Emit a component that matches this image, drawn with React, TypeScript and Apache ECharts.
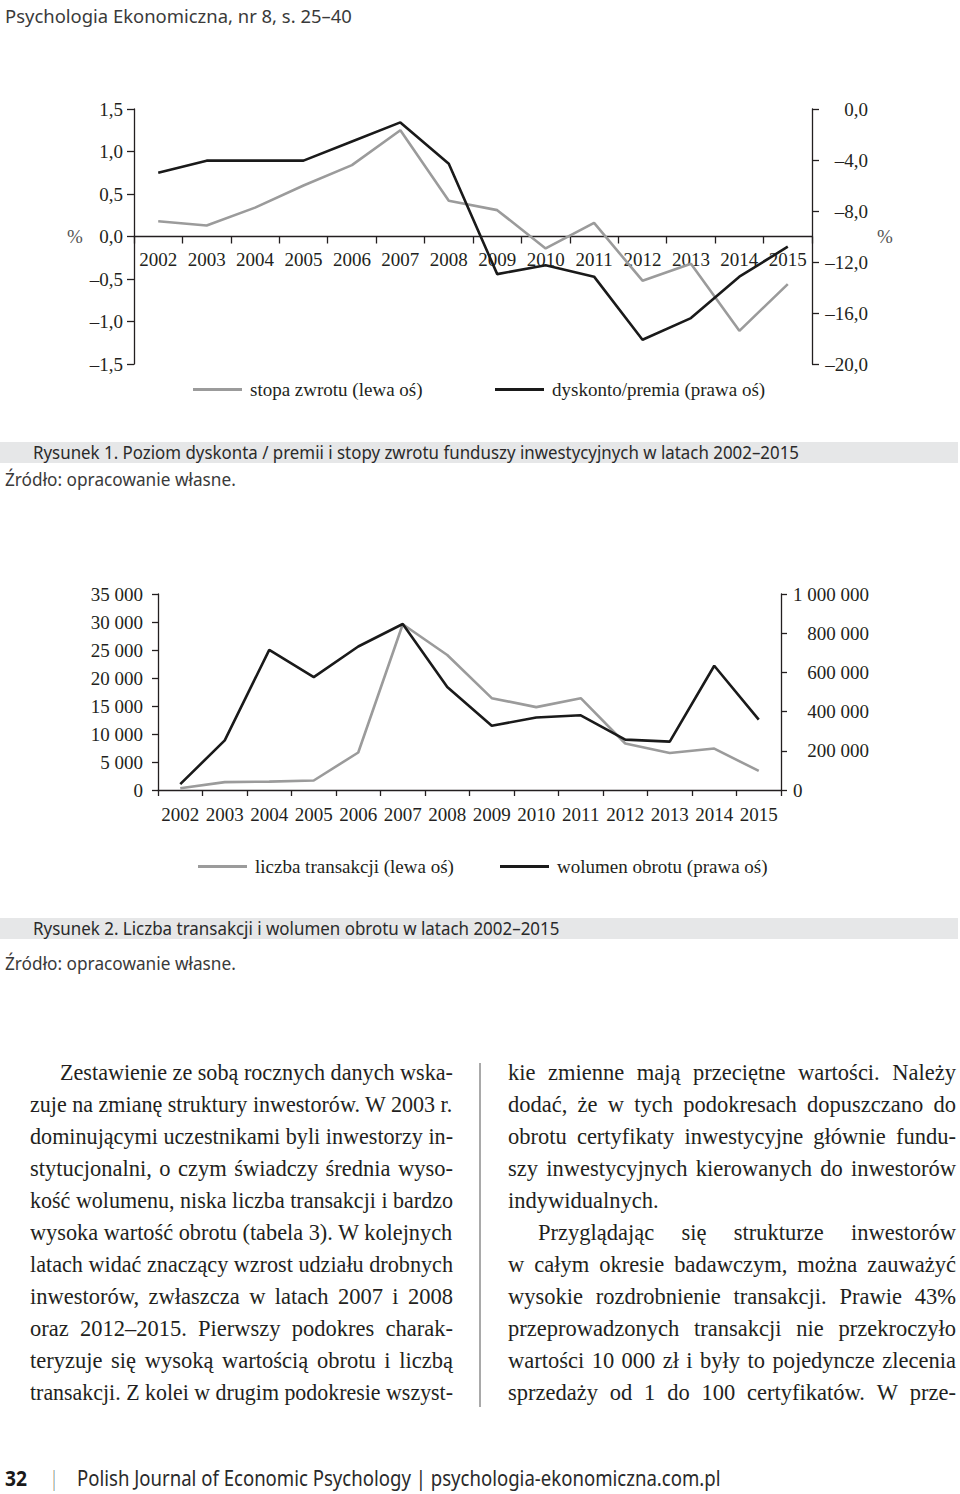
import React, { useEffect, useRef } from 'react';
import * as echarts from 'echarts';

// ---------- data ----------
const years = ['2002', '2003', '2004', '2005', '2006', '2007', '2008', '2009', '2010', '2011', '2012', '2013', '2014', '2015'];
const stopaZwrotu = [0.18, 0.13, 0.34, 0.6, 0.84, 1.25, 0.42, 0.31, -0.14, 0.16, -0.52, -0.32, -1.11, -0.56];
const dyskontoPremia = [-5.0, -4.05, -4.05, -4.05, -2.55, -1.05, -4.3, -12.95, -12.25, -13.15, -18.1, -16.4, -13.15, -10.8];
const liczbaTransakcji = [300, 1400, 1500, 1700, 6700, 29600, 24100, 16400, 14800, 16400, 8300, 6600, 7400, 3400];
const wolumenObrotu = [30000, 253000, 715000, 576000, 732000, 847000, 525000, 328000, 370000, 381000, 257000, 247000, 634000, 359000];

const seriesNames1 = ['stopa zwrotu (lewa oś)', 'dyskonto/premia (prawa oś)'];
const seriesNames2 = ['liczba transakcji (lewa oś)', 'wolumen obrotu (prawa oś)'];

const headerText = 'Psychologia Ekonomiczna, nr 8, s. 25–40';
const caption1 = 'Rysunek 1. Poziom dyskonta / premii i stopy zwrotu funduszy inwestycyjnych w latach 2002–2015';
const caption2 = 'Rysunek 2. Liczba transakcji i wolumen obrotu w latach 2002–2015';
const sourceText = 'Źródło: opracowanie własne.';
const footerPage = '32';
const footerText = 'Polish Journal of Economic Psychology | psychologia-ekonomiczna.com.pl';

const leftLines = [
  'Zestawienie ze sobą rocznych danych wska-',
  'zuje na zmianę struktury inwestorów. W 2003 r.',
  'dominującymi uczestnikami byli inwestorzy in-',
  'stytucjonalni, o czym świadczy średnia wyso-',
  'kość wolumenu, niska liczba transakcji i bardzo',
  'wysoka wartość obrotu (tabela 3). W kolejnych',
  'latach widać znaczący wzrost udziału drobnych',
  'inwestorów, zwłaszcza w latach 2007 i 2008',
  'oraz 2012–2015. Pierwszy podokres charak-',
  'teryzuje się wysoką wartością obrotu i liczbą',
  'transakcji. Z kolei w drugim podokresie wszyst-',
];
const rightLines = [
  'kie zmienne mają przeciętne wartości. Należy',
  'dodać, że w tych podokresach dopuszczano do',
  'obrotu certyfikaty inwestycyjne głównie fundu-',
  'szy inwestycyjnych kierowanych do inwestorów',
  'indywidualnych.',
  'Przyglądając się strukturze inwestorów',
  'w całym okresie badawczym, można zauważyć',
  'wysokie rozdrobnienie transakcji. Prawie 43%',
  'przeprowadzonych transakcji nie przekroczyło',
  'wartości 10 000 zł i były to pojedyncze zlecenia',
  'sprzedaży od 1 do 100 certyfikatów. W prze-',
];
const leftIndent = [30, 0, 0, 0, 0, 0, 0, 0, 0, 0, 0];
const rightIndent = [0, 0, 0, 0, 0, 30, 0, 0, 0, 0, 0];
const rightJustify = [true, true, true, true, false, true, true, true, true, true, true];

// ---------- helpers ----------
const SERIF = '"Liberation Serif", "Times New Roman", serif';
const SANS = '"Noto Sans", sans-serif';
const TEXT_COLOR = '#231f20';

let measureCtx: CanvasRenderingContext2D | null = null;
function measure(text: string, font: string): number {
  if (!measureCtx) measureCtx = document.createElement('canvas').getContext('2d');
  if (!measureCtx) return text.length * 8;
  measureCtx.font = font;
  return measureCtx.measureText(text).width;
}
function fit(text: string, size: number, family: string, target: number, weight = 'normal') {
  const w = measure(text, `${weight} ${size}px ${family}`);
  return w > 0 ? target / w : 1;
}

const fmt1 = (v: number) => (v < -1e-9 ? '–' : '') + Math.abs(v).toFixed(1).replace('.', ',');
const fmtThousands = (v: number) => String(Math.round(v)).replace(/\B(?=(\d{3})+(?!\d))/g, ' ');

const axisLineStyle = { color: TEXT_COLOR, width: 1.3 };
const labelBase = { fontFamily: SERIF, fontSize: 19, color: TEXT_COLOR };

function sansText(text: string, x: number, y: number, size: number, target: number, fill: string, weight = 'normal') {
  return {
    type: 'text',
    x,
    y,
    scaleX: fit(text, size, SANS, target, weight),
    z: 10,
    style: {
      text,
      fontFamily: SANS,
      fontSize: size,
      fontWeight: weight,
      fill,
      textVerticalAlign: 'middle',
      verticalAlign: 'middle',
    },
  };
}

function Charts() {
  const ref = useRef<HTMLDivElement>(null);
  useEffect(() => {
    if (!ref.current) return;
    const chart = echarts.init(ref.current, undefined, { renderer: 'svg' });
    const legendBase = {
      icon: 'rect',
      itemWidth: 49,
      itemHeight: 3,
      selectedMode: false,
      textStyle: { ...labelBase, padding: [0, 0, 0, 3] },
    };
    chart.setOption({
      animation: false,
      grid: [
        { left: 134, top: 109, width: 678, height: 255 },
        { left: 158, top: 594, width: 623, height: 196 },
      ],
      xAxis: [
        {
          type: 'category',
          gridIndex: 0,
          data: years,
          boundaryGap: true,
          position: 'bottom',
          offset: -127.5,
          axisLine: { onZero: false, lineStyle: axisLineStyle },
          axisTick: { show: true, length: 7, lineStyle: axisLineStyle },
          axisLabel: { ...labelBase, margin: 13, interval: 0 },
          splitLine: { show: false },
        },
        {
          type: 'category',
          gridIndex: 1,
          data: years,
          boundaryGap: true,
          axisLine: { onZero: false, lineStyle: axisLineStyle },
          axisTick: { show: true, length: 6, lineStyle: axisLineStyle },
          axisLabel: { ...labelBase, margin: 15, interval: 0 },
          splitLine: { show: false },
        },
      ],
      yAxis: [
        {
          type: 'value',
          gridIndex: 0,
          position: 'left',
          min: -1.5,
          max: 1.5,
          interval: 0.5,
          axisLine: { show: true, onZero: false, lineStyle: axisLineStyle },
          axisTick: { show: true, length: 7, lineStyle: axisLineStyle },
          axisLabel: { ...labelBase, margin: 11, formatter: fmt1 },
          splitLine: { show: false },
        },
        {
          type: 'value',
          gridIndex: 0,
          position: 'right',
          min: -20,
          max: 0,
          interval: 4,
          axisLine: { show: true, onZero: false, lineStyle: axisLineStyle },
          axisTick: { show: true, length: 7, lineStyle: axisLineStyle },
          axisLabel: { ...labelBase, margin: 56, align: 'right', formatter: fmt1 },
          splitLine: { show: false },
        },
        {
          type: 'value',
          gridIndex: 1,
          position: 'left',
          min: 0,
          max: 35000,
          interval: 5000,
          axisLine: { show: true, onZero: false, lineStyle: axisLineStyle },
          axisTick: { show: true, length: 6, lineStyle: axisLineStyle },
          axisLabel: { ...labelBase, margin: 15, formatter: fmtThousands },
          splitLine: { show: false },
        },
        {
          type: 'value',
          gridIndex: 1,
          position: 'right',
          min: 0,
          max: 1000000,
          interval: 200000,
          axisLine: { show: true, onZero: false, lineStyle: axisLineStyle },
          axisTick: { show: true, length: 6, lineStyle: axisLineStyle },
          axisLabel: {
            ...labelBase,
            margin: 88,
            align: 'right',
            formatter: (v: number) => (v === 0 ? '{z|0}' : fmtThousands(v)),
            rich: { z: { ...labelBase, width: 76, align: 'left' } },
          },
          splitLine: { show: false },
        },
      ],
      legend: [
        { ...legendBase, data: [seriesNames1[0]], left: 188, top: 375 },
        { ...legendBase, data: [seriesNames1[1]], left: 490, top: 375 },
        { ...legendBase, data: [seriesNames2[0]], left: 193, top: 852 },
        { ...legendBase, data: [seriesNames2[1]], left: 495, top: 852 },
      ],
      series: [
        {
          name: seriesNames1[0],
          type: 'line',
          xAxisIndex: 0,
          yAxisIndex: 0,
          data: stopaZwrotu,
          showSymbol: false,
          lineStyle: { color: '#9b9b9b', width: 2.6 },
          itemStyle: { color: '#9b9b9b' },
        },
        {
          name: seriesNames1[1],
          type: 'line',
          xAxisIndex: 0,
          yAxisIndex: 1,
          data: dyskontoPremia,
          showSymbol: false,
          lineStyle: { color: '#1a1a1a', width: 2.6 },
          itemStyle: { color: '#1a1a1a' },
        },
        {
          name: seriesNames2[0],
          type: 'line',
          xAxisIndex: 1,
          yAxisIndex: 2,
          data: liczbaTransakcji,
          showSymbol: false,
          lineStyle: { color: '#9b9b9b', width: 2.6 },
          itemStyle: { color: '#9b9b9b' },
        },
        {
          name: seriesNames2[1],
          type: 'line',
          xAxisIndex: 1,
          yAxisIndex: 3,
          data: wolumenObrotu,
          showSymbol: false,
          lineStyle: { color: '#1a1a1a', width: 2.6 },
          itemStyle: { color: '#1a1a1a' },
        },
      ],
      graphic: {
        elements: [
          { type: 'rect', z: 1, shape: { x: 0, y: 442, width: 958, height: 21 }, style: { fill: '#e6e7e8' } },
          { type: 'rect', z: 1, shape: { x: 0, y: 918, width: 958, height: 21 }, style: { fill: '#e6e7e8' } },
          sansText(headerText, 5, 15, 19, 347, '#3a3a3a'),
          sansText(caption1, 33, 452, 18, 767, '#2a2a2a'),
          sansText(sourceText, 5, 479, 18, 231, '#3a3a3a'),
          sansText(caption2, 33, 928, 18, 527, '#2a2a2a'),
          sansText(sourceText, 5, 963, 18, 231, '#3a3a3a'),
          sansText(footerPage, 5, 1478, 21, 22, '#1a1a1a', 'bold'),
          sansText('|', 52, 1478, 21, 4, '#3a3a3a'),
          sansText(footerText, 77, 1478, 21, 644, '#2a2a2a'),
          {
            type: 'text',
            x: 75,
            y: 236,
            style: { text: '%', fontFamily: SERIF, fontSize: 19, fill: '#555', align: 'center', textAlign: 'center', verticalAlign: 'middle', textVerticalAlign: 'middle' },
          },
          {
            type: 'text',
            x: 885,
            y: 236,
            style: { text: '%', fontFamily: SERIF, fontSize: 19, fill: '#555', align: 'center', textAlign: 'center', verticalAlign: 'middle', textVerticalAlign: 'middle' },
          },
          { type: 'line', shape: { x1: 480, y1: 1063, x2: 480, y2: 1407 }, style: { stroke: '#555', lineWidth: 1 } },
        ],
      },
    });
    return () => chart.dispose();
  }, []);
  return <div ref={ref} style={{ position: 'absolute', left: 0, top: 0, width: 960, height: 1494 }} />;
}

const BODY_SIZE = 22.5;
const BODY_FONT = `${BODY_SIZE}px ${SERIF}`;

function BodyLine({ text, x, y, width, indent, justify }: { text: string; x: number; y: number; width: number; indent: number; justify: boolean }) {
  const avail = width - indent;
  const natural = measure(text, BODY_FONT);
  const common: React.CSSProperties = {
    position: 'absolute',
    left: x + indent,
    top: y - 16,
    height: 32,
    lineHeight: '32px',
    fontFamily: SERIF,
    fontSize: BODY_SIZE,
    color: TEXT_COLOR,
    whiteSpace: 'pre',
  };
  if (natural > avail) {
    return (
      <div style={{ ...common, width: natural, transform: `scaleX(${avail / natural})`, transformOrigin: 'left center' }}>{text}</div>
    );
  }
  if (!justify) return <div style={common}>{text}</div>;
  const words = text.split(' ');
  return (
    <div style={{ ...common, width: avail, display: 'flex', justifyContent: 'space-between' }}>
      {words.map((w, i) => (
        <span key={i}>{w}</span>
      ))}
    </div>
  );
}

function Body() {
  const lineY = (i: number) => 1073 + i * 32;
  return (
    <div style={{ position: 'absolute', left: 0, top: 0, width: 960, height: 1494, pointerEvents: 'none' }}>
      {leftLines.map((t, i) => (
        <BodyLine key={'l' + i} text={t} x={30} y={lineY(i)} width={423} indent={leftIndent[i]} justify={true} />
      ))}
      {rightLines.map((t, i) => (
        <BodyLine key={'r' + i} text={t} x={508} y={lineY(i)} width={448} indent={rightIndent[i]} justify={rightJustify[i]} />
      ))}
    </div>
  );
}

export default function App() {
  useEffect(() => {
    document.body.style.margin = '0';
  }, []);
  return (
    <div style={{ position: 'absolute', left: 0, top: 0, width: 960, height: 1494, background: '#fff', overflow: 'hidden' }}>
      <Charts />
      <Body />
    </div>
  );
}
